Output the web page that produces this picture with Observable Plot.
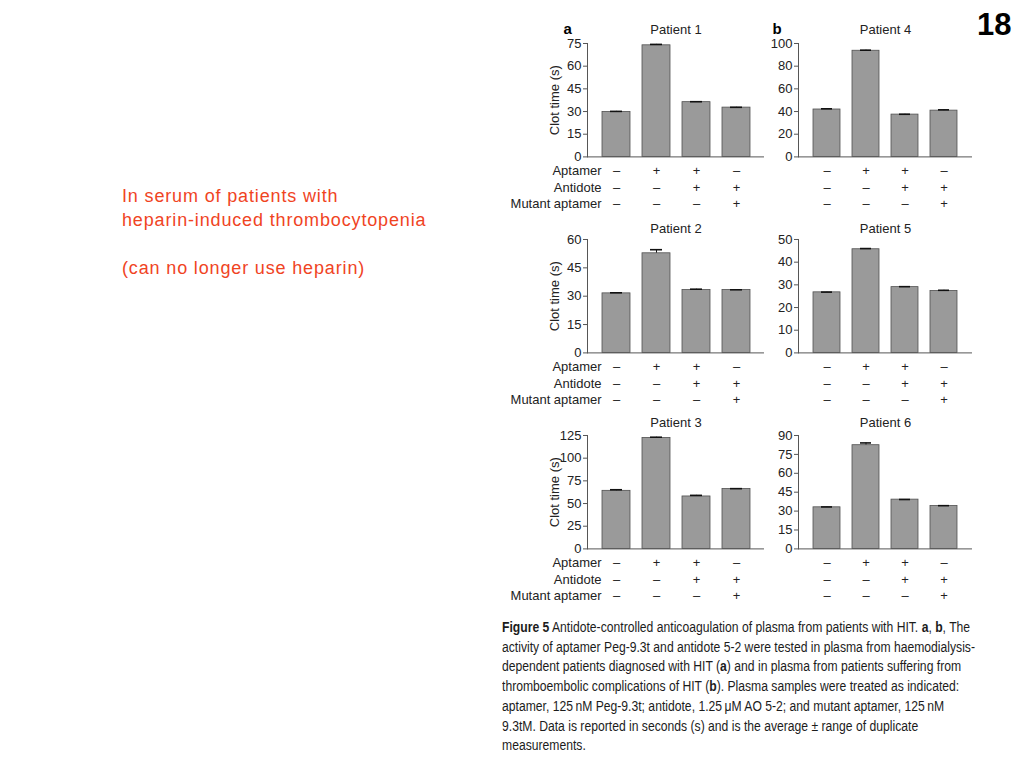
<!DOCTYPE html>
<html>
<head>
<meta charset="utf-8">
<script src="https://cdn.jsdelivr.net/npm/d3@7"></script>
<script src="https://cdn.jsdelivr.net/npm/@observablehq/plot@0.6"></script>
<style>
  html, body { margin: 0; padding: 0; background: #fff; }
  body { width: 1024px; height: 768px; position: relative; overflow: hidden; font-family: "Liberation Sans", Arial, Helvetica, sans-serif; }
  .panel { position: absolute; }
  .panel svg { display: block; overflow: visible; }
  #slideno { position: absolute; left: 977px; top: 9px; font-size: 31px; font-weight: bold; line-height: 1; color: #000; }
  #note { position: absolute; left: 122px; top: 184px; color: #f0441f; font-size: 18px; line-height: 24px; letter-spacing: 0.85px; }
  #caption { position: absolute; left: 502px; top: 618px; font-family: "Liberation Sans", Arial, Helvetica, sans-serif; font-size: 14px; line-height: 19.7px; color: #1c1c1c; white-space: nowrap; transform-origin: 0 0; }
  #caption span { display: block; }
</style>
</head>
<body>
<div id="slideno">18</div>
<div id="note">In serum of patients with<br>heparin-induced thrombocytopenia<br><br>(can no longer use heparin)</div>
<div id="caption">
<span id="cap1"><b>Figure 5</b> Antidote-controlled anticoagulation of plasma from patients with HIT. <b>a</b>, <b>b</b>, The</span>
<span>activity of aptamer Peg-9.3t and antidote 5-2 were tested in plasma from haemodialysis-</span>
<span>dependent patients diagnosed with HIT (<b>a</b>) and in plasma from patients suffering from</span>
<span>thromboembolic complications of HIT (<b>b</b>). Plasma samples were treated as indicated:</span>
<span>aptamer, 125&#8201;nM Peg-9.3t; antidote, 1.25&#8201;μM AO 5-2; and mutant aptamer, 125&#8201;nM</span>
<span>9.3tM. Data is reported in seconds (s) and is the average ± range of duplicate</span>
<span>measurements.</span>
</div>
<script>
// ---- data ----
const conditions = ["c1", "c2", "c3", "c4"];
const aptamer = ["–", "+", "+", "–"];
const antidote = ["–", "–", "+", "+"];
const mutantAptamer = ["–", "–", "–", "+"];
const rowLabels = ["Aptamer", "Antidote", "Mutant aptamer"];
const patients = ["Patient 1", "Patient 2", "Patient 3", "Patient 4", "Patient 5", "Patient 6"];

const p1Values = [29.7, 73.8, 36.2, 32.6];
const p1Errors = [0.4, 0.6, 0.3, 0.2];
const p2Values = [31.5, 52.7, 33.3, 33.3];
const p2Errors = [0.3, 1.9, 0.4, 0.1];
const p3Values = [64.0, 122.3, 57.8, 66.0];
const p3Errors = [1.2, 0.8, 1.2, 0.4];
const p4Values = [41.8, 93.6, 37.3, 40.8];
const p4Errors = [0.6, 0.5, 0.3, 0.7];
const p5Values = [26.7, 45.7, 29.0, 27.3];
const p5Errors = [0.1, 0.3, 0.2, 0.3];
const p6Values = [33.0, 82.3, 39.1, 34.0];
const p6Errors = [0.3, 1.8, 0.1, 0.3];

const p1Ticks = [0, 15, 30, 45, 60, 75];
const p2Ticks = [0, 15, 30, 45, 60];
const p3Ticks = [0, 25, 50, 75, 100, 125];
const p4Ticks = [0, 20, 40, 60, 80, 100];
const p5Ticks = [0, 10, 20, 30, 40, 50];
const p6Ticks = [0, 15, 30, 45, 60, 75, 90];

// ---- caption fit ----
(function () {
  const cap = document.getElementById("caption");
  const w = document.getElementById("cap1").getBoundingClientRect().width;
  const sx = 473 / w;
  cap.style.transform = `scaleX(${sx})`;
})();

// ---- layout ----
const FONT = "'Liberation Sans', Arial, Helvetica, sans-serif";
const PLOT_H = 113.4;
const MT = 26, MB = 58;

function makePanel({title, values, errors, ticks, plotLeft, plotBottom, plotWidth, marginLeft, labels, letter, yLabel, titleDy}) {
  const data = conditions.map((c, i) => ({
    cond: c, value: values[i], lo: values[i] - errors[i], hi: values[i] + errors[i],
    apt: aptamer[i], anti: antidote[i], mut: mutantAptamer[i]
  }));
  const marks = [
    Plot.ruleX(data, {x: "cond", y1: "lo", y2: "hi", stroke: "#111", strokeWidth: 1}),
    Plot.barY(data, {x: "cond", y: "value", fill: "#9a9a9a", stroke: "#505050", strokeWidth: 0.8}),
    Plot.tickY(data, {x: "cond", y: "hi", insetLeft: 8, insetRight: 8, stroke: "#111", strokeWidth: 1.6}),
    Plot.ruleY([0], {stroke: "#555", strokeWidth: 1}),
    Plot.frame({anchor: "left", stroke: "#555", strokeWidth: 1}),
    Plot.axisY({ticks, tickSize: 4, tickPadding: 2, label: null, fontSize: 13, stroke: "#555"}),
    Plot.text([title], {frameAnchor: "top", dy: titleDy, fontSize: 13, fill: "#222", lineAnchor: "middle"}),
    Plot.text(data, {x: "cond", text: "apt", frameAnchor: "bottom", dy: 13.5, fontSize: 13, fill: "#222", lineAnchor: "middle"}),
    Plot.text(data, {x: "cond", text: "anti", frameAnchor: "bottom", dy: 31, fontSize: 13, fill: "#222", lineAnchor: "middle"}),
    Plot.text(data, {x: "cond", text: "mut", frameAnchor: "bottom", dy: 47, fontSize: 13, fill: "#222", lineAnchor: "middle"})
  ];
  if (letter) {
    marks.push(Plot.text([letter], {frameAnchor: "top-left", dx: letter === "a" ? -24 : -26, dy: titleDy, textAnchor: "start", lineAnchor: "middle", fontSize: 15, fontWeight: "bold", fill: "#000"}));
  }
  if (yLabel) {
    marks.push(Plot.text([yLabel], {frameAnchor: "left", dx: -33, rotate: -90, textAnchor: "middle", fontSize: 13, fill: "#222", lineAnchor: "middle"}));
  }
  if (labels) {
    [13.5, 31, 47].forEach((dy, k) => {
      marks.push(Plot.text([rowLabels[k]], {frameAnchor: "bottom-left", dx: 14, dy, textAnchor: "end", fontSize: 13, fill: "#222", lineAnchor: "middle"}));
    });
  }
  const marginRight = 6;
  const plot = Plot.plot({
    width: marginLeft + plotWidth + marginRight,
    height: MT + PLOT_H + MB,
    marginLeft, marginRight, marginTop: MT, marginBottom: MB,
    style: {fontFamily: FONT, fontSize: "13px", color: "#222", background: "transparent", overflow: "visible"},
    x: {type: "band", domain: conditions, paddingInner: 0.3, paddingOuter: 0.36, axis: null},
    y: {domain: [0, ticks[ticks.length - 1]], axis: null},
    marks
  });
  const div = document.createElement("div");
  div.className = "panel";
  div.style.left = (plotLeft - marginLeft) + "px";
  div.style.top = (plotBottom - PLOT_H - MT) + "px";
  div.appendChild(plot);
  document.body.appendChild(div);
}

const leftCol = {plotLeft: 587, plotWidth: 177, marginLeft: 92, labels: true, yLabel: "Clot time (s)"};
const rightCol = {plotLeft: 798, plotWidth: 174, marginLeft: 40, labels: false, yLabel: null};

makePanel({...leftCol, title: patients[0], values: p1Values, errors: p1Errors, ticks: p1Ticks, plotBottom: 156.7, letter: "a", titleDy: -14});
makePanel({...leftCol, title: patients[1], values: p2Values, errors: p2Errors, ticks: p2Ticks, plotBottom: 352.7, titleDy: -10.5});
makePanel({...leftCol, title: patients[2], values: p3Values, errors: p3Errors, ticks: p3Ticks, plotBottom: 548.3, titleDy: -12.5});
makePanel({...rightCol, title: patients[3], values: p4Values, errors: p4Errors, ticks: p4Ticks, plotBottom: 156.7, letter: "b", titleDy: -14});
makePanel({...rightCol, title: patients[4], values: p5Values, errors: p5Errors, ticks: p5Ticks, plotBottom: 352.0, titleDy: -11});
makePanel({...rightCol, title: patients[5], values: p6Values, errors: p6Errors, ticks: p6Ticks, plotBottom: 548.3, titleDy: -12.5});
</script>
</body>
</html>
